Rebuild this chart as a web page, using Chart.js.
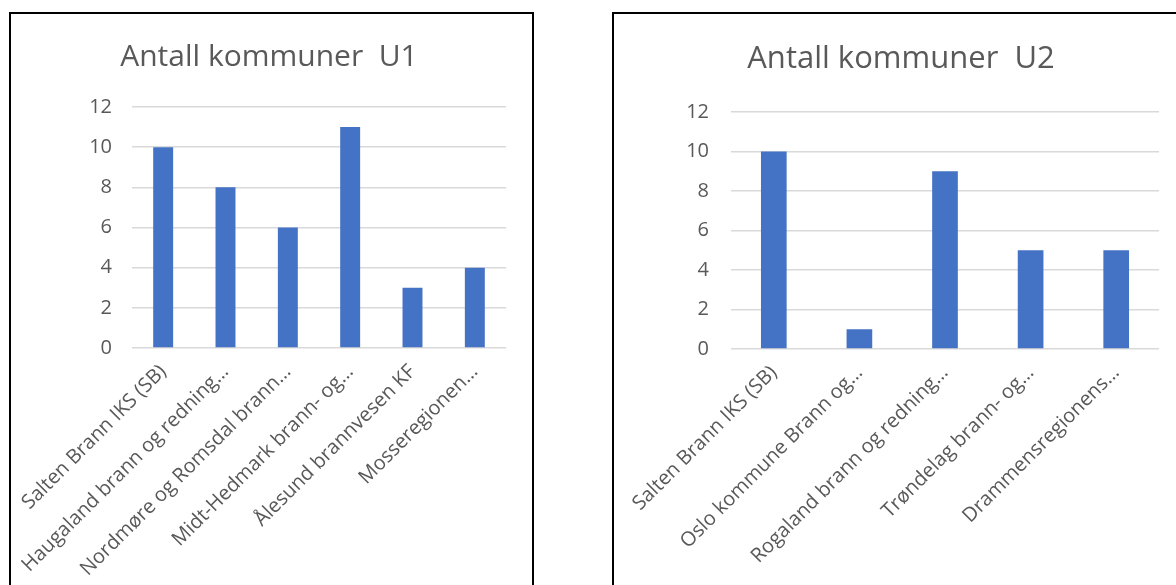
<!DOCTYPE html>
<html>
<head>
<meta charset="utf-8">
<script src="https://cdn.jsdelivr.net/npm/chart.js@4.4.1/dist/chart.umd.min.js"></script>
<style>
    html, body { margin: 0; padding: 0; background: #fff; width: 1176px; height: 585px; overflow: hidden; }
    .panel { position: absolute; border: 2px solid #000; box-sizing: border-box; background: #fff; }
    #panel1 { left: 9px; top: 12px; width: 525px; height: 620px; }
    #panel2 { left: 612px; top: 12px; width: 578px; height: 620px; }
    canvas { position: absolute; left: 0; top: 0; }
</style>
</head>
<body>
<div class="panel" id="panel1"><canvas id="chartU1" width="521" height="571"></canvas></div>
<div class="panel" id="panel2"><canvas id="chartU2" width="574" height="571"></canvas></div>

<script>
// U1
const u1Title = "Antall kommuner  U1";
const u1Labels = [
    "Salten Brann IKS (SB)",
    "Haugaland brann og redning…",
    "Nordmøre og Romsdal brann…",
    "Midt-Hedmark brann- og…",
    "Ålesund brannvesen KF",
    "Mosseregionen…"
];
const u1Values = [10, 8, 6, 11, 3, 4];

// U2
const u2Title = "Antall kommuner  U2";
const u2Labels = [
    "Salten Brann IKS (SB)",
    "Oslo kommune Brann og…",
    "Rogaland brann og redning…",
    "Trøndelag brann- og…",
    "Drammensregionens…"
];
const u2Values = [10, 1, 9, 5, 5];

// shared y axis
const yMin = 0;
const yMax = 12;
const yStep = 2;

const textColor = "#595959";
const fontFamily = "'Open Sans', 'Noto Sans', sans-serif";

function drawChart(id, title, labels, values, layout) {
    new Chart(document.getElementById(id), {
        type: "bar",
        data: {
            labels: labels,
            datasets: [{
                data: values,
                backgroundColor: "#4472C4",
                borderWidth: 0,
                categoryPercentage: 1,
                barPercentage: layout.barPct
            }]
        },
        options: {
            responsive: false,
            animation: false,
            devicePixelRatio: 1,
            layout: { padding: { left: 0, right: layout.padRight, top: 0, bottom: 0 } },
            plugins: {
                legend: { display: false },
                tooltip: { enabled: false },
                title: {
                    display: true,
                    text: title,
                    color: textColor,
                    font: { family: fontFamily, size: layout.titleSize, weight: "normal", lineHeight: 1.2 },
                    padding: { top: layout.titleTop, bottom: layout.titleBottom }
                }
            },
            scales: {
                x: {
                    grid: { display: false },
                    border: { display: false },
                    ticks: {
                        color: textColor,
                        font: { family: fontFamily, size: 20 },
                        autoSkip: false,
                        minRotation: 45,
                        maxRotation: 45,
                        padding: 4
                    },
                    afterFit: function (scale) {
                        // keep the title centred on the whole panel, inset only the plot
                        scale.height = layout.xHeight;
                        scale.paddingLeft = 0;
                        scale.paddingRight = layout.right;
                    }
                },
                y: {
                    min: yMin,
                    max: yMax,
                    grid: { color: "#D9D9D9", lineWidth: 1.5, drawTicks: false },
                    border: { display: false },
                    ticks: {
                        stepSize: yStep,
                        color: textColor,
                        font: { family: fontFamily, size: 20 },
                        padding: layout.yPad
                    },
                    afterFit: function (scale) {
                        scale.width = layout.yWidth;
                        scale.paddingTop = 0;
                        scale.paddingBottom = 0;
                    }
                }
            }
        }
    });
}

drawChart("chartU1", u1Title, u1Labels, u1Values, {
    barPct: 0.32, padRight: 5, right: 26, titleSize: 30, titleTop: 25, titleBottom: 32,
    xHeight: 237, yWidth: 121, yPad: 20
});

drawChart("chartU2", u2Title, u2Labels, u2Values, {
    barPct: 0.30, padRight: 0, right: 29, titleSize: 31, titleTop: 26.7, titleBottom: 34.1,
    xHeight: 236, yWidth: 117, yPad: 22
});
</script>
</body>
</html>
